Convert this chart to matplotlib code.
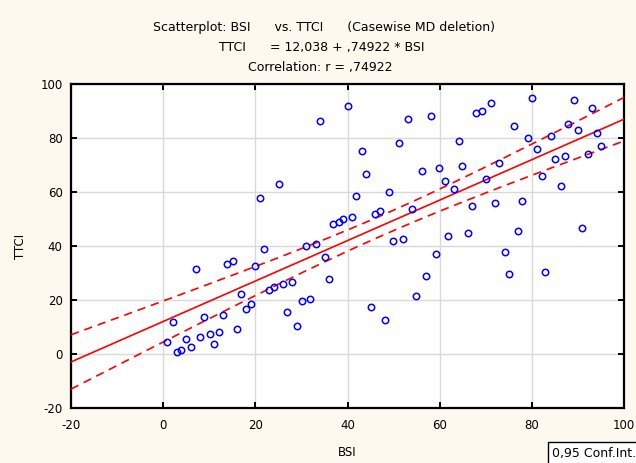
import numpy as np
import matplotlib
matplotlib.use("Agg")
import matplotlib.pyplot as plt

plt.rcParams['font.family'] = ['DejaVu Sans']
plt.rcParams['axes.unicode_minus'] = False

# ---- data ----
bsi = [40.2, 34.0, 53.2, 58.2, 51.1, 43.1, 44.0, 56.1, 59.9, 61.2,
       25.1, 21.0, 41.9, 49.1, 54.1, 36.9, 38.1, 39.0, 41.0, 46.0,
       47.0, 49.9, 52.0, 61.9, 31.0, 33.1, 21.9, 80.0, 89.1, 71.1,
       69.1, 67.9, 93.0, 76.2, 87.9, 64.1, 90.0, 94.2, 79.1, 84.2,
       81.2, 95.1, 92.1, 87.1, 85.0, 64.9, 72.9, 63.2, 70.0, 82.1,
       86.3, 67.0, 72.1, 77.9, 66.1, 77.1, 90.9, 74.1, 75.0, 82.9,
       20.0, 35.2, 36.0, 59.1, 57.0, 54.9, 45.0, 48.1, 19.1, 23.0,
       24.0, 26.0, 28.0, 26.9, 30.1, 31.9, 29.0, 7.1, 13.9, 15.1,
       16.9, 18.0, 16.0, 13.0, 12.2, 8.9, 10.1, 11.0, 8.0, 2.1,
       0.9, 5.0, 6.0, 3.0, 3.9]
ttci = [92.0, 86.2, 87.1, 88.1, 78.0, 75.1, 66.8, 67.9, 68.8, 64.0,
        63.0, 57.7, 58.6, 60.1, 53.8, 48.0, 48.9, 50.0, 50.9, 51.9,
        52.8, 41.7, 42.7, 43.7, 39.9, 40.7, 39.0, 94.9, 94.0, 93.0,
        90.1, 89.1, 91.0, 84.3, 85.2, 78.9, 82.8, 81.9, 79.9, 80.9,
        76.0, 77.0, 74.2, 73.2, 72.2, 69.7, 70.7, 61.1, 64.9, 65.9,
        62.1, 54.8, 55.8, 56.8, 44.7, 45.7, 46.5, 37.8, 29.6, 30.5,
        32.5, 35.9, 27.8, 36.9, 28.8, 21.4, 17.5, 12.7, 18.5, 23.8,
        24.8, 25.8, 26.8, 15.7, 19.5, 20.5, 10.4, 31.5, 33.5, 34.4,
        22.3, 16.5, 9.3, 14.6, 8.3, 13.7, 7.4, 3.6, 6.4, 11.7,
        4.4, 5.4, 2.6, 0.6, 1.6]
intercept = 12.038
slope = 0.74922
x_ticks = [-20, 0, 20, 40, 60, 80, 100]
y_ticks = [-20, 0, 20, 40, 60, 80, 100]
t_crit = 1.986

x = np.array(bsi)
y = np.array(ttci)
n = len(x)

fig = plt.figure(figsize=(6.36, 4.63), dpi=100)
fig.patch.set_facecolor('#fdf9ee')
ax = fig.add_axes([71/636, 1-408/463, (624-71)/636, (408-84)/463])
ax.set_facecolor('white')

ax.set_xlim(-20, 100)
ax.set_ylim(-20, 100)
ax.set_xticks(x_ticks)
ax.set_yticks(y_ticks)
ax.grid(True, color='#d9d9d9', linewidth=1.0, zorder=0)
ax.set_axisbelow(True)

xs = np.linspace(-20, 100, 200)
fit = intercept + slope * xs
resid = y - (intercept + slope * x)
s = np.sqrt(np.sum(resid**2) / (n - 2))
sxx = np.sum((x - x.mean())**2)
hw = t_crit * s * np.sqrt(1.0/n + (xs - x.mean())**2 / sxx)

ax.plot(xs, fit, color='#ff0000', lw=1.2, zorder=3)
ax.plot(xs, fit + hw, color='#ff0000', lw=1.2, ls=(0, (5, 3.5)), zorder=3)
ax.plot(xs, fit - hw, color='#ff0000', lw=1.2, ls=(0, (5, 3.5)), zorder=3)

ax.plot(x, y, 'o', mfc='none', mec='#0000ff', ms=4.6, mew=1.1, zorder=4)

for sp in ax.spines.values():
    sp.set_color('black')
    sp.set_linewidth(1.6)
ax.tick_params(direction='in', length=4, width=1.4, labelsize=8.5,
               top=True, right=True)
ax.tick_params(axis='x', pad=8)
ax.tick_params(axis='y', pad=6)

ax.set_xlabel('BSI', fontsize=8.5, labelpad=10)
ax.set_ylabel('TTCI', fontsize=8.5, labelpad=10)

fig.text(0.510, 1-27/463, 'Scatterplot: BSI      vs. TTCI      (Casewise MD deletion)',
         ha='center', va='center', fontsize=9)
fig.text(0.506, 1-47/463, 'TTCI      = 12,038 + ,74922 * BSI',
         ha='center', va='center', fontsize=9)
fig.text(0.5035, 1-67/463, 'Correlation: r = ,74922',
         ha='center', va='center', fontsize=9)

fig.text(552/636, 1-453/463, '0,95 Conf.Int.', ha='left', va='center', fontsize=9,
         bbox=dict(boxstyle='square,pad=0.35', fc='white', ec='black', lw=1.0))

fig.savefig('out.png', dpi=100, facecolor=fig.get_facecolor())
